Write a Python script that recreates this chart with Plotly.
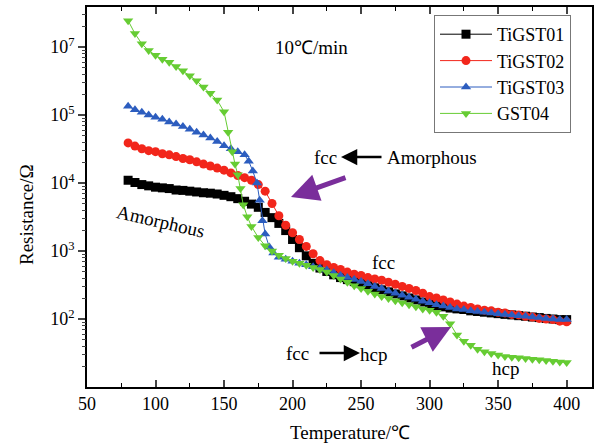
import plotly.graph_objects as go

# ---------------- data ----------------
x_01 = [80, 85, 90, 95, 100, 105, 110, 115, 120, 125, 130, 135, 140, 145, 150, 155, 160, 165, 170, 175,
        180, 185, 190, 195, 200, 205, 210, 215, 220, 225, 230, 235, 240, 245, 250, 255, 260, 265, 270,
        275, 280, 285, 290, 295, 300, 305, 310, 315, 320, 325, 330, 335, 340, 345, 350, 355, 360, 365,
        370, 375, 380, 385, 390, 395, 400]
r_01 = [1.10e4, 1.02e4, 9.5e3, 9.1e3, 8.7e3, 8.5e3, 8.3e3, 7.9e3, 7.8e3, 7.6e3, 7.4e3, 7.2e3, 7.1e3,
        6.9e3, 6.6e3, 6.3e3, 5.9e3, 5.4e3, 4.9e3, 4.4e3, 3.7e3, 3.1e3, 2.55e3, 2.0e3, 1.48e3, 1.12e3,
        850, 660, 562, 501, 447, 407, 380, 355, 331, 309, 288, 269, 251, 234, 219, 204, 191, 178, 166,
        158, 151, 145, 141, 138, 132, 129, 126, 123, 120, 117, 115, 112, 110, 107, 105, 102, 100, 98, 98]

x_02 = [80, 85, 90, 95, 100, 105, 110, 115, 120, 125, 130, 135, 140, 145, 150, 155, 160, 165, 170, 175,
        180, 185, 190, 195, 200, 205, 210, 215, 220, 225, 230, 235, 240, 245, 250, 255, 260, 265, 270,
        275, 280, 285, 290, 295, 300, 305, 310, 315, 320, 325, 330, 335, 340, 345, 350, 355, 360, 365,
        370, 375, 380, 385, 390, 395, 400]
r_02 = [3.9e4, 3.5e4, 3.2e4, 3.0e4, 2.9e4, 2.7e4, 2.6e4, 2.45e4, 2.3e4, 2.2e4, 2.05e4, 1.9e4, 1.78e4,
        1.66e4, 1.55e4, 1.41e4, 1.29e4, 1.2e4, 1.1e4, 9.5e3, 7.6e3, 5.0e3, 3.3e3, 2.4e3, 1.86e3, 1.48e3,
        1.17e3, 912, 724, 631, 575, 537, 490, 457, 437, 407, 389, 372, 347, 324, 302, 282, 263, 240, 214,
        204, 191, 178, 166, 155, 148, 141, 135, 132, 126, 123, 117, 115, 110, 107, 102, 100, 98, 93, 91]

x_03 = [80, 85, 90, 95, 100, 105, 110, 115, 120, 125, 130, 135, 140, 145, 150, 155, 160, 165, 168, 171,
        174, 176, 178, 180, 183, 186, 190, 195, 200, 205, 210, 215, 220, 225, 230, 235, 240, 245, 250,
        255, 260, 265, 270, 275, 280, 285, 290, 295, 300, 305, 310, 315, 320, 325, 330, 335, 340, 345,
        350, 355, 360, 365, 370, 375, 380, 385, 390, 395, 400]
r_03 = [1.35e5, 1.2e5, 1.1e5, 1.0e5, 9.3e4, 8.7e4, 7.9e4, 7.4e4, 6.8e4, 6.2e4, 5.6e4, 5.1e4, 4.6e4,
        4.1e4, 3.55e4, 3.2e4, 2.9e4, 2.6e4, 2.1e4, 1.5e4, 1.0e4, 5.6e3, 2.8e3, 1.78e3, 1.15e3, 933,
        813, 759, 708, 661, 631, 589, 562, 525, 479, 437, 407, 380, 355, 331, 302, 282, 257, 240, 224,
        209, 195, 182, 174, 162, 155, 148, 141, 138, 132, 129, 126, 123, 120, 117, 115, 112, 110, 107,
        105, 102, 100, 98, 98]

x_04 = [80, 85, 90, 95, 100, 105, 110, 115, 120, 125, 130, 135, 140, 145, 150, 153, 156, 158, 160, 162,
        164, 167, 170, 175, 180, 185, 190, 195, 200, 205, 210, 215, 220, 225, 230, 235, 240, 245, 250,
        255, 260, 265, 270, 275, 280, 285, 290, 295, 300, 305, 310, 315, 320, 325, 330, 335, 340, 345,
        350, 355, 360, 365, 370, 375, 380, 385, 390, 395, 400]
r_04 = [2.45e6, 1.58e6, 1.12e6, 8.9e5, 7.6e5, 6.6e5, 6.0e5, 5.2e5, 4.5e5, 3.8e5, 3.2e5, 2.6e5, 2.1e5,
        1.66e5, 1.12e5, 5.6e4, 2.9e4, 1.9e4, 1.32e4, 8.3e3, 4.8e3, 3.2e3, 2.3e3, 1.58e3, 1.2e3, 1.0e3,
        870, 776, 708, 661, 617, 575, 537, 490, 437, 389, 347, 309, 282, 257, 234, 214, 200, 186, 174,
        162, 151, 141, 135, 126, 110, 85, 58, 47, 41, 36, 33, 31, 29.5, 28.2, 27.5, 26.9, 26.3, 25.7,
        25.1, 24.5, 24.0, 23.4, 22.9]

names = ["TiGST01", "TiGST02", "TiGST03", "GST04"]
colors = ["#000000", "#f2261b", "#2c5dbf", "#66cc33"]
symbols = ["square", "circle", "triangle-up", "triangle-down"]

y_tickvals = [1e2, 1e3, 1e4, 1e5, 1e6]
y_ticktext = ["10<sup>2</sup>", "10<sup>3</sup>", "10<sup>4</sup>", "10<sup>5</sup>", "10<sup>7</sup>"]
y_minor = [k * 10 ** n for n in range(1, 7) for k in range(2, 10)]
x_ticks = [50, 100, 150, 200, 250, 300, 350, 400]

# ---------------- figure ----------------
FONT = "Liberation Serif"
W, H = 603, 448
L, R, T, B = 87, 11, 7, 61
PW, PH = W - L - R, H - T - B


def px(x, y):
    return (x - L) / PW, (H - B - y) / PH


fig = go.Figure()
series = [(x_01, r_01), (x_02, r_02), (x_03, r_03), (x_04, r_04)]
for (xs, ys), n, c, s in zip(series, names, colors, symbols):
    fig.add_trace(go.Scatter(
        x=xs, y=ys, name=n, mode="lines+markers",
        line=dict(color=c, width=1),
        marker=dict(symbol=s, size=9, color=c, line=dict(width=0)),
    ))

# invisible trace to carry the minor tick axis
fig.add_trace(go.Scatter(x=[None], y=[None], yaxis="y2", showlegend=False, hoverinfo="skip"))

fig.update_layout(
    width=W, height=H,
    margin=dict(l=L, r=R, t=T, b=B, autoexpand=False),
    paper_bgcolor="white", plot_bgcolor="white",
    font=dict(family=FONT, size=18, color="black"),
    showlegend=True,
    legend=dict(
        x=px(434, 0)[0], y=px(0, 15)[1], xanchor="left", yanchor="top",
        bordercolor="#777777", borderwidth=1, bgcolor="white",
        font=dict(family=FONT, size=18), itemwidth=52, tracegroupgap=0,
    ),
    xaxis=dict(
        range=[50, 418.5], tickvals=x_ticks, ticks="inside", ticklen=7, tickwidth=1.5,
        showline=True, linecolor="black", linewidth=1.5, mirror="ticks", showgrid=False,
        zeroline=False, tickfont=dict(family=FONT, size=18), automargin=False,
        minor=dict(dtick=25, tick0=50, ticks="inside", ticklen=4, tickwidth=1.2, tickcolor="black"),
    ),
    yaxis=dict(
        type="log", range=[1.0, 6.59], tickmode="array", tickvals=y_tickvals, ticktext=y_ticktext,
        ticks="outside", ticklen=7, tickwidth=1.5, showline=True, linecolor="black", linewidth=1.5,
        mirror=True, showgrid=False, zeroline=False, tickfont=dict(family=FONT, size=18),
        automargin=False,
    ),
    yaxis2=dict(
        type="log", range=[1.0, 6.59], overlaying="y", side="left", anchor="x",
        tickmode="array", tickvals=y_minor, ticks="outside", ticklen=4, tickwidth=1.2,
        showticklabels=False, showgrid=False, showline=False, zeroline=False, automargin=False,
    ),
)

ann = []


def text(x, y, s, size=19, angle=0):
    xx, yy = px(x, y)
    ann.append(dict(xref="paper", yref="paper", x=xx, y=yy, text=s, showarrow=False,
                    font=dict(family=FONT, size=size, color="black"), textangle=angle,
                    xanchor="center", yanchor="middle"))


def arrow(x0, y0, x1, y1, color, width, size):
    hx, hy = px(x1, y1)
    ann.append(dict(xref="paper", yref="paper", x=hx, y=hy, ax=x0 - x1, ay=y0 - y1,
                    axref="pixel", ayref="pixel", text="", showarrow=True,
                    arrowhead=2, arrowsize=size, arrowwidth=width, arrowcolor=color))


text(311, 47, "10℃/min")
text(325, 157, "fcc")
text(432, 157, "Amorphous")
arrow(383, 157, 341, 157, "black", 2.5, 1.3)
arrow(347, 177, 291, 197, "#7a2e9b", 5, 1.1)
text(161, 221, "Amorphous", angle=13)
text(383, 262, "fcc")
text(297, 353, "fcc")
text(373, 354, "hcp")
arrow(318, 353, 360, 353, "black", 2.5, 1.3)
arrow(410, 348, 451, 327, "#7a2e9b", 5, 1.1)
text(505, 368, "hcp")
# axis titles
text(27, 215, "Resistance/Ω", size=19, angle=-90)
text(350, 432, "Temperature/℃", size=19)

fig.update_layout(annotations=ann)
fig.write_html("out.html", config={"displayModeBar": False},
               post_script="document.body.style.margin='0';")
